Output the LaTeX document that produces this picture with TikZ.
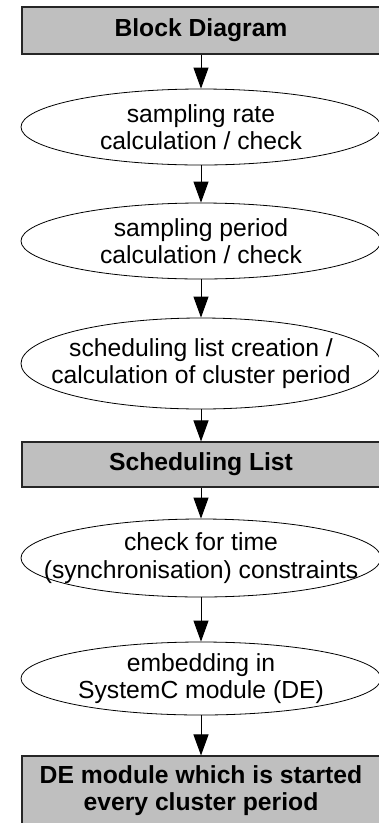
\documentclass[tikz,border=0pt]{standalone}
\usepackage{fontspec}
\setmainfont{Liberation Sans}
\usetikzlibrary{arrows.meta,shapes.geometric}

\tikzset{
  blockbox/.style={draw=black!85, line width=1.1pt, fill=black!25, rectangle,
    minimum width=358pt, inner sep=0pt, font=\fontsize{24.7}{27.5}\selectfont\bfseries, align=center},
  oval/.style={draw=black, line width=0.8pt, ellipse, inner sep=0pt,
    minimum width=360pt},
  lbl/.style={inner sep=0pt, align=center, font=\fontsize{24.7}{27.5}\selectfont},
  arr/.style={line width=1pt, -{Triangle[length=21pt,width=15pt]}}
}

\begin{document}
\begin{tikzpicture}[x=1pt,y=1pt]
\useasboundingbox (0,0) rectangle (378,-823);

% stages of the flow, top to bottom
\node[blockbox, minimum height=47pt] (b1) at (201,-30.5) {Block Diagram};

\node[oval, minimum height=76pt] (e1) at (201,-127) {};
\node[lbl] (e1t) at (e1.center) {sampling rate\\calculation / check};

\node[oval, minimum height=76pt] (e2) at (201,-241) {};
\node[lbl] (e2t) at (e2.center) {sampling period\\calculation / check};

\node[oval, minimum height=91pt] (e3) at (201,-363.5) {};
\node[lbl] (e3t) at (e3.center) {scheduling list creation /\\calculation of cluster period};

\node[blockbox, minimum height=45pt] (b2) at (201,-464.5) {Scheduling List};

\node[oval, minimum height=78pt] (e4) at (201,-558) {};
\node[lbl] (e4t) at (e4.center) {check for time\\(synchronisation) constraints};

\node[oval, minimum height=73pt] (e5) at (201,-678.5) {};
\node[lbl] (e5t) at (e5.center) {embedding in\\SystemC module (DE)};

\node[blockbox, minimum height=69pt] (b3) at (201,-790.5) {DE module which is started\\every cluster period};

% connectors
\draw[arr] (b1) -- (e1);
\draw[arr] (e1) -- (e2);
\draw[arr] (e2) -- (e3);
\draw[arr] (e3) -- (b2);
\draw[arr] (b2) -- (e4);
\draw[arr] (e4) -- (e5);
\draw[arr] (e5) -- (b3);
\end{tikzpicture}
\end{document}
